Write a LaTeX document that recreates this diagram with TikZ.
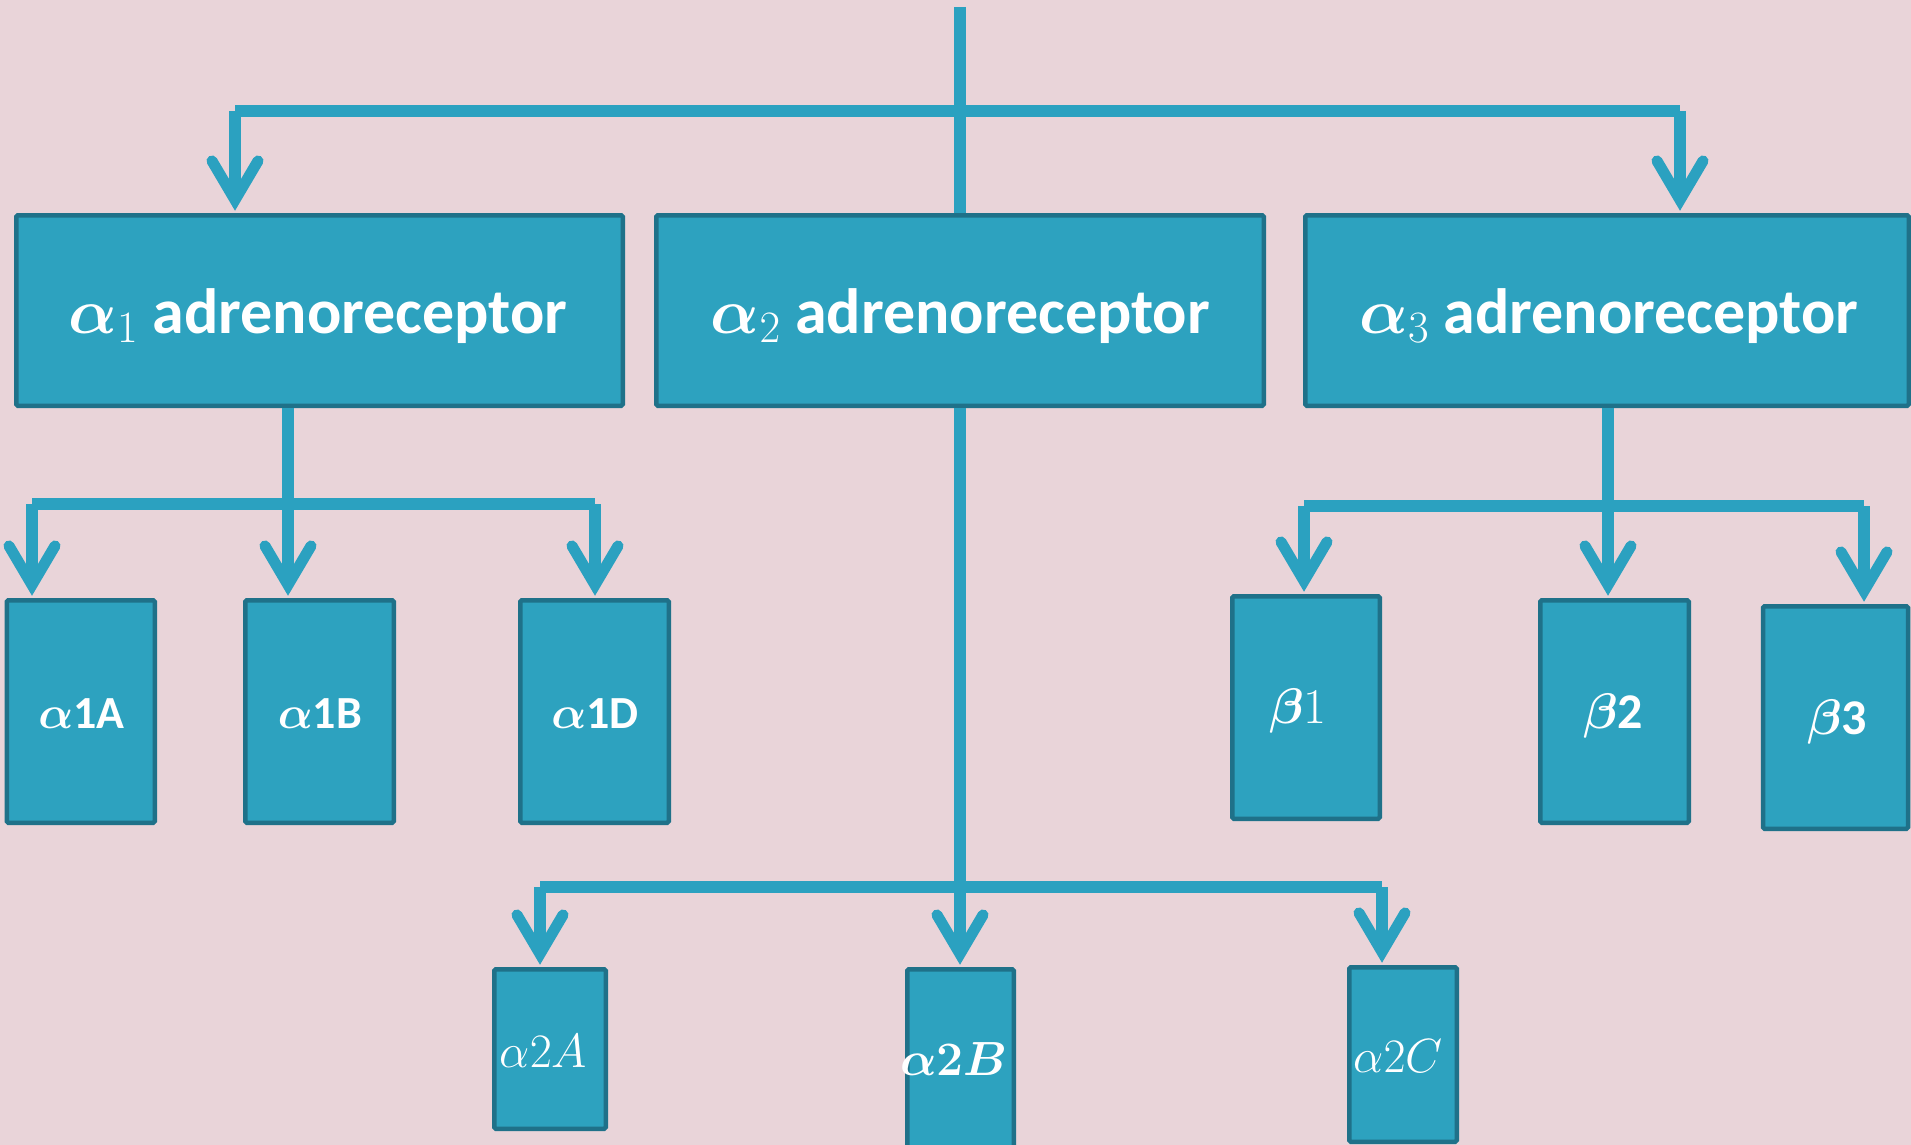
\documentclass[tikz,border=0pt]{standalone}
\usepackage{fix-cm}
\usepackage{amsmath,bm}
\usepackage{fontspec}
\setmainfont{Carlito}
\usetikzlibrary{arrows.meta}
\definecolor{bg}{RGB}{233,212,217}
\definecolor{boxfill}{RGB}{45,162,191}
\definecolor{boxedge}{RGB}{31,113,137}
\definecolor{wire}{RGB}{43,161,192}
\begin{document}
\begin{tikzpicture}[x=1pt,y=-1pt,
  boxnode/.style={rectangle, draw=boxedge, fill=boxfill, line width=4.5pt, rounded corners=1.5pt, inner sep=0pt},
  wireline/.style={draw=wire, line width=11.5pt},
  arrowline/.style={wireline, shorten >=2.25pt, -{Straight Barb[length=39pt, width=46pt, line width=11pt, line cap=round, line join=miter]}},
  headtxt/.style={text=white, inner sep=0pt, anchor=base, font=\fontsize{64}{72}\selectfont\bfseries},
  subtxt/.style={text=white, inner sep=0pt, anchor=base, font=\fontsize{46}{52}\selectfont\bfseries},
  betatxt/.style={text=white, inner sep=0pt, anchor=base, font=\fontsize{50}{56}\selectfont\bfseries},
  lowtxt/.style={text=white, inner sep=0pt, anchor=base, font=\fontsize{48}{54}\selectfont}
]
\useasboundingbox (0,0) rectangle (1911,1145);
\fill[bg] (0,0) rectangle (1911,1145);

% boxes
\node[boxnode, minimum width=606.5pt, minimum height=190.5pt] (a1) at (319.5,310.5) {};
\node[boxnode, minimum width=607.5pt, minimum height=190.5pt] (a2) at (960,310.5) {};
\node[boxnode, minimum width=603.5pt, minimum height=190.5pt] (a3) at (1607,310.5) {};
\node[boxnode, minimum width=148pt, minimum height=222.5pt] (a1A) at (80.75,711.5) {};
\node[boxnode, minimum width=148.5pt, minimum height=222.5pt] (a1B) at (319.5,711.5) {};
\node[boxnode, minimum width=148.5pt, minimum height=222.5pt] (a1D) at (594.5,711.5) {};
\node[boxnode, minimum width=147.5pt, minimum height=222.5pt] (b1) at (1306,707.5) {};
\node[boxnode, minimum width=148.5pt, minimum height=222.5pt] (b2) at (1614.5,711.5) {};
\node[boxnode, minimum width=145pt, minimum height=222.5pt] (b3) at (1835.5,717.5) {};
\node[boxnode, minimum width=111.5pt, minimum height=159.5pt] (a2A) at (550,1049) {};
\node[boxnode, minimum width=106.5pt, minimum height=198.5pt] (a2B) at (960.5,1068.5) {};
\node[boxnode, minimum width=107.5pt, minimum height=174.5pt] (a2C) at (1403,1054.5) {};

% top level connectors
\coordinate (top) at (960,7);
\coordinate (jL) at (235,111);
\coordinate (jR) at (1680,111);
\draw[wireline] (top) -- (top |- a2.north);
\draw[wireline] (jL) -- (jR);
\draw[arrowline] (jL) -- (jL |- a1.north);
\draw[arrowline] (jR) -- (jR |- a3.north);

% alpha1 branch
\coordinate (k1) at (288,504);
\coordinate (k1L) at (32,504);
\coordinate (k1R) at (595,504);
\draw[arrowline] (k1 |- a1.south) -- (k1 |- a1B.north);
\draw[wireline] (k1L) -- (k1R);
\draw[arrowline] (k1L) -- (k1L |- a1A.north);
\draw[arrowline] (k1R) -- (k1R |- a1D.north);

% alpha2 branch
\coordinate (k2L) at (540,887);
\coordinate (k2R) at (1382,887);
\draw[arrowline] (a2.south) -- (a2.south |- a2B.north);
\draw[wireline] (k2L) -- (k2R);
\draw[arrowline] (k2L) -- (k2L |- a2A.north);
\draw[arrowline] (k2R) -- (k2R |- a2C.north);

% alpha3 branch
\coordinate (k3) at (1608,506);
\coordinate (k3L) at (1304,506);
\coordinate (k3R) at (1864,506);
\draw[arrowline] (k3 |- a3.south) -- (k3 |- b2.north);
\draw[wireline] (k3L) -- (k3R);
\draw[arrowline] (k3L) -- (k3L |- b1.north);
\draw[arrowline] (k3R) -- (k3R |- b3.north);

% texts
\node[headtxt] (t1) at (318,333) {$\bm{\alpha}_1$ adrenoreceptor};
\node[headtxt] (t2) at (960.5,333) {$\bm{\alpha}_2$ adrenoreceptor};
\node[headtxt] (t3) at (1609,333) {$\bm{\alpha}_3$ adrenoreceptor};
\node[subtxt] (t1A) at (81.5,728) {$\bm{\alpha}$1A};
\node[subtxt] (t1B) at (320,728) {$\bm{\alpha}$1B};
\node[subtxt] (t1D) at (595,728) {$\bm{\alpha}$1D};
\node[betatxt] (tb1) at (1298,723) {$\bm{\beta}1$};
\node[betatxt] (tb2) at (1613,728) {$\bm{\beta}$2};
\node[betatxt] (tb3) at (1837,734) {$\bm{\beta}$3};
\node[lowtxt] (t2A) at (543.5,1067) {$\alpha2A$};
\node[lowtxt] (t2B) at (954,1075) {$\bm{\alpha2B}$};
\node[lowtxt] (t2C) at (1398,1072) {$\alpha2C$};
\end{tikzpicture}
\end{document}
